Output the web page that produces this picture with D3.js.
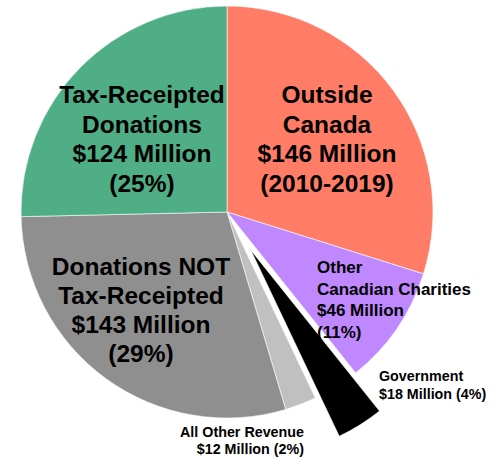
<!DOCTYPE html>
<html>
<head>
<meta charset="utf-8">
<script src="https://cdn.jsdelivr.net/npm/d3@7"></script>
<style>
  html, body { margin: 0; padding: 0; background: #fff; }
  svg { display: block; }
</style>
</head>
<body>
<div id="chart"></div>
<script>
// Revenue sources, clockwise from 12 o'clock
const categories = ['Outside Canada', 'Other Canadian Charities', 'Government',
  'All Other Revenue', 'Donations NOT Tax-Receipted', 'Tax-Receipted Donations'];
const amounts = [146, 46, 18, 12, 143, 124];          // $ millions
const shareLabels = ['(2010-2019)', '(11%)', '(4%)', '(2%)', '(29%)', '(25%)'];
const nameLines = [
  ['Outside', 'Canada'],
  ['Other', 'Canadian Charities'],
  ['Government'],
  ['All Other Revenue'],
  ['Donations NOT', 'Tax-Receipted'],
  ['Tax-Receipted', 'Donations'],
];
const colors = ['#FF7C66', '#BF88FF', '#000000', '#C0C0C0', '#8F8F8F', '#4FAE85'];
const exploded = 'Government';

// label placement (layout only)
const LABELS = {
  'Outside Canada':              { x: 327, y: 103, size: 24.5, gap: 29.6, anchor: 'middle', inline: false },
  'Other Canadian Charities':    { x: 317, y: 273, size: 17,   gap: 21.5, anchor: 'start',  inline: false },
  'Government':                  { x: 379, y: 381, size: 14.3, gap: 17.5, anchor: 'start',  inline: true },
  'All Other Revenue':           { x: 304, y: 437, size: 14.3, gap: 16.5, anchor: 'end',    inline: true },
  'Donations NOT Tax-Receipted': { x: 141, y: 275, size: 24.5, gap: 29,   anchor: 'middle', inline: false },
  'Tax-Receipted Donations':     { x: 142, y: 103, size: 24.5, gap: 29.6, anchor: 'middle', inline: false },
};

const W = 501, H = 462;
const CX = 227, CY = 212, R = 206, EXPLODE = 45;

const svg = d3.select('#chart').append('svg')
  .attr('width', W).attr('height', H);

const data = categories.map((c, i) => ({ name: c, value: amounts[i], i }));
const pie = d3.pie().sort(null).value(d => d.value);
const arc = d3.arc().innerRadius(0).outerRadius(R);

const g = svg.append('g').attr('transform', `translate(${CX},${CY})`);

g.selectAll('path.slice')
  .data(pie(data))
  .join('path')
  .attr('class', 'slice')
  .attr('d', arc)
  .attr('fill', d => colors[d.data.i])
  .attr('stroke', '#fff')
  .attr('stroke-width', 0.6)
  .attr('transform', d => {
    if (d.data.name !== exploded) return null;
    const a = (d.startAngle + d.endAngle) / 2;
    return `translate(${EXPLODE * Math.sin(a)},${-EXPLODE * Math.cos(a)})`;
  });

// labels
data.forEach(d => {
  const L = LABELS[d.name];
  const money = `$${d.value} Million`;
  const lines = L.inline
    ? [...nameLines[d.i], `${money} ${shareLabels[d.i]}`]
    : [...nameLines[d.i], money, shareLabels[d.i]];
  const t = svg.append('text')
    .attr('font-family', '"Liberation Sans", Arial, sans-serif')
    .attr('font-weight', 'bold')
    .attr('font-size', L.size)
    .attr('text-anchor', L.anchor)
    .attr('fill', '#000');
  lines.forEach((ln, k) => {
    t.append('tspan')
      .attr('x', L.x)
      .attr('y', L.y + k * L.gap)
      .text(ln);
  });
});
</script>
</body>
</html>
